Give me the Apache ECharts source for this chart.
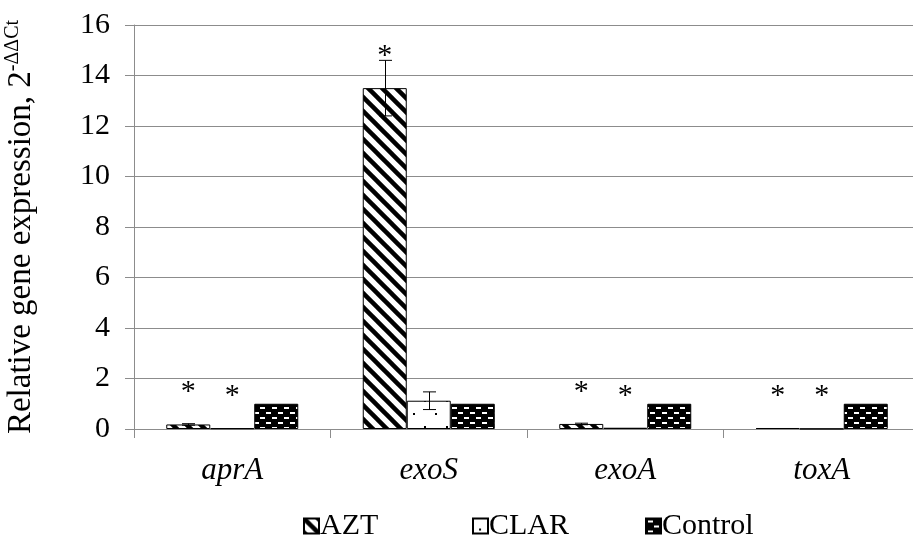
<!DOCTYPE html>
<html>
<head>
<meta charset="utf-8">
<script src="https://cdn.jsdelivr.net/npm/echarts@6/dist/echarts.min.js"></script>
<style>html,body{margin:0;padding:0;background:#fff;}#c{width:913px;height:538px;}</style>
</head>
<body>
<div id="c"></div>
<script>
// ---- data ----
var categories = ['aprA', 'exoS', 'exoA', 'toxA'];
var seriesNames = ['AZT', 'CLAR', 'Control'];
var aztValues = [0.18, 13.5, 0.2, 0.04];
var clarValues = [0.03, 1.12, 0.05, 0.01];
var controlValues = [1.0, 1.0, 1.0, 1.0];
var aztErrors = [0.03, 1.1, 0.03, 0.0];
var clarErrors = [0.0, 0.35, 0.0, 0.0];
var controlErrors = [0.0, 0.0, 0.0, 0.0];
var aztSignificant = [true, true, true, true];
var clarSignificant = [true, false, true, true];
var controlSignificant = [false, false, false, false];
var yTicks = [0, 2, 4, 6, 8, 10, 12, 14, 16];

// ---- patterns ----
function makeCanvas(w, h) { var c = document.createElement('canvas'); c.width = w; c.height = h; return c; }
function stripePattern() {
  var s = 14, c = makeCanvas(s, s), g = c.getContext('2d');
  g.fillStyle = '#fff'; g.fillRect(0, 0, s, s);
  g.strokeStyle = '#000'; g.lineWidth = 4.5;
  for (var k = -1; k <= 1; k++) {
    g.beginPath(); g.moveTo(k * s - 2, -2); g.lineTo(k * s + s + 2, s + 2); g.stroke();
  }
  return c;
}
function dotPattern() {
  var w = 22, h = 26, c = makeCanvas(w, h), g = c.getContext('2d');
  g.fillStyle = '#fff'; g.fillRect(0, 0, w, h);
  g.fillStyle = '#000';
  g.fillRect(6, 10, 2, 2); g.fillRect(17, 23, 2, 2);
  return c;
}
function brickPattern() {
  var w = 12, h = 10, c = makeCanvas(w, h), g = c.getContext('2d');
  g.fillStyle = '#000'; g.fillRect(0, 0, w, h);
  g.fillStyle = '#fff';
  g.fillRect(2, 2, 5, 2);
  g.fillRect(8, 7, 4, 2); g.fillRect(0, 7, 1, 2);
  return c;
}
var patterns = [
  { image: stripePattern(), repeat: 'repeat' },
  { image: dotPattern(), repeat: 'repeat' },
  { image: brickPattern(), repeat: 'repeat' }
];

var valueSets = [aztValues, clarValues, controlValues];
var errorSets = [aztErrors, clarErrors, controlErrors];
var sigSets = [aztSignificant, clarSignificant, controlSignificant];
var BAR_W = 44;
var FONT = '"Liberation Serif", "Times New Roman", serif';

var series = [];
seriesNames.forEach(function (name, si) {
  series.push({
    name: name,
    type: 'bar',
    barWidth: BAR_W,
    barGap: '0%',
    itemStyle: { color: patterns[si], borderColor: '#000', borderWidth: 1 },
    data: valueSets[si].map(function (v, i) {
      return {
        value: v,
        label: {
          show: sigSets[si][i],
          position: 'top',
          distance: 17,
          formatter: '*',
          fontFamily: FONT,
          fontSize: 30,
          color: '#000'
        }
      };
    }),
    z: 2
  });
});
// error bars
seriesNames.forEach(function (name, si) {
  series.push({
    type: 'custom',
    silent: true,
    z: 5,
    data: valueSets[si].map(function (v, i) { return [i, v, errorSets[si][i]]; }),
    renderItem: function (params, api) {
      var e = api.value(2);
      if (!(e > 0)) return null;
      var c = api.coord([api.value(0), api.value(1)]);
      var x = Math.round(c[0] + (si - 1) * BAR_W) + 0.5;
      var top = api.coord([api.value(0), api.value(1) + e])[1];
      var bot = api.coord([api.value(0), api.value(1) - e])[1];
      var cw = 6.5;
      var st = { stroke: '#000', lineWidth: 1 };
      return {
        type: 'group',
        children: [
          { type: 'line', shape: { x1: x, y1: top, x2: x, y2: bot }, style: st },
          { type: 'line', shape: { x1: x - cw, y1: top, x2: x + cw, y2: top }, style: st },
          { type: 'line', shape: { x1: x - cw, y1: bot, x2: x + cw, y2: bot }, style: st }
        ]
      };
    }
  });
});

var legendLefts = [298, 467, 640];
var legends = seriesNames.map(function (n, i) {
  return {
    data: [n],
    left: legendLefts[i], top: 506,
    itemWidth: 15, itemHeight: 15,
    icon: 'rect',
    selectedMode: false,
    textStyle: { fontFamily: FONT, fontSize: 30, color: '#000', padding: [0, 0, 0, -4] }
  };
});

var chart = echarts.init(document.getElementById('c'), null, { renderer: 'canvas' });
chart.setOption({
  animation: false,
  backgroundColor: '#fff',
  textStyle: { fontFamily: FONT },
  grid: { left: 134, top: 25, width: 786, bottom: 109, containLabel: false, outerBoundsMode: 'none' },
  legend: legends,
  xAxis: {
    type: 'category',
    data: categories,
    axisLine: { lineStyle: { color: '#8c8c8c', width: 1 } },
    axisTick: { show: true, length: 9, lineStyle: { color: '#8c8c8c' } },
    axisLabel: { fontFamily: FONT, fontSize: 31, fontStyle: 'italic', color: '#000', margin: 26 }
  },
  yAxis: {
    type: 'value',
    min: yTicks[0], max: yTicks[yTicks.length - 1], interval: 2,
    name: 'Relative gene expression, 2{sup|-ΔΔCt}',
    nameLocation: 'middle',
    nameGap: 95,
    nameTextStyle: {
      fontFamily: FONT, fontSize: 33, color: '#000',
      rich: { sup: { fontFamily: FONT, fontSize: 20, verticalAlign: 'top', padding: [0, 0, 16, 0] } }
    },
    axisLine: { show: true, lineStyle: { color: '#8c8c8c', width: 1 } },
    axisTick: { show: true, length: 9, lineStyle: { color: '#8c8c8c' } },
    splitLine: { show: true, lineStyle: { color: '#8c8c8c', width: 1 } },
    axisLabel: { fontFamily: FONT, fontSize: 30, color: '#000', margin: 24 }
  },
  series: series
});
</script>
</body>
</html>
